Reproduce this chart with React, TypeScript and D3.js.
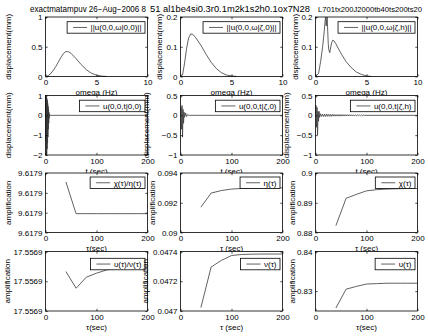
import React, { useEffect, useRef } from 'react';
import * as d3 from 'd3';

const W = 428;
const H = 336;

// row 1: spectra, omega (Hz)
const omegaA = [0, 0.25, 0.5, 0.75, 1, 1.25, 1.5, 1.75, 2, 2.25, 2.5, 3, 3.5, 4, 4.5, 5, 5.5, 6];
const specA = [0, 0.012, 0.045, 0.1, 0.165, 0.24, 0.32, 0.385, 0.42, 0.415, 0.39, 0.3, 0.2, 0.115, 0.055, 0.022, 0.007, 0];
const omegaB = [0, 0.2, 0.4, 0.6, 0.8, 1, 1.2, 1.5, 2, 2.5, 3, 3.5, 4, 4.5, 5, 5.5];
const specB = [0, 0.005, 0.045, 0.095, 0.13, 0.143, 0.142, 0.13, 0.105, 0.075, 0.048, 0.027, 0.013, 0.005, 0.002, 0];
const omegaC = [0, 0.3, 0.5, 0.7, 0.85, 0.95, 1, 1.05, 1.1, 1.15, 1.2, 1.25, 1.3, 1.4, 1.5, 1.6, 1.7, 1.8, 2, 2.3, 2.6, 3, 3.5, 4, 4.5, 5, 5.5];
const specC = [0, 0.01, 0.05, 0.1, 0.15, 0.19, 0.2, 0.17, 0.19, 0.2, 0.15, 0.11, 0.09, 0.08, 0.1, 0.115, 0.122, 0.12, 0.11, 0.09, 0.072, 0.05, 0.03, 0.015, 0.007, 0.002, 0];

// row 2: time histories, t (sec)
const timeA = [0, 0.4, 0.8, 1.2, 1.6, 2, 2.4, 2.8, 3.2, 3.6, 4, 4.4, 4.8, 5.2, 5.6, 6, 6.4, 6.8, 7.2, 7.6, 8, 200];
const dispA = [0, 0.9, -1.3, 0.95, -2, 0.9, -1.95, 0.85, -1.7, 0.75, -1.4, 0.6, -1.1, 0.45, -0.7, 0.3, -0.4, 0.15, -0.15, 0.05, 0, 0];
const timeB = [0, 1, 2, 3, 4, 5, 6, 7, 8, 10, 12, 14, 16, 18, 200];
const dispB = [0, 0.2, -0.35, 0.25, -0.55, 0.15, -0.2, 0.08, -0.05, 0.06, -0.03, 0.02, 0, 0, 0];
const timeC = [0, 1, 2, 3, 4, 5, 6, 7, 8, 10, 12, 14, 16, 18, 20, 22, 24, 26, 28, 30, 32, 34, 36, 38, 40, 42, 44, 46, 48, 50, 52, 54, 56, 58, 60, 62, 64, 66, 68, 70, 72, 74, 76, 78, 80, 82, 84, 86, 88, 90, 92, 94, 96, 200];
const dispC = [0, 0.25, -0.3, 0.2, -0.5, 0.1, -0.15, 0.1, -0.05, 0.04, -0.03, 0.03, -0.03, 0.03, -0.03, 0.03, -0.025, 0.025, -0.025, 0.025, -0.025, 0.025, -0.02, 0.02, -0.02, 0.02, -0.02, 0.02, -0.02, 0.02, -0.018, 0.018, -0.018, 0.018, -0.016, 0.016, -0.016, 0.016, -0.015, 0.015, -0.014, 0.014, -0.013, 0.013, -0.012, 0.012, -0.011, 0.011, -0.01, 0.01, -0.008, 0.006, 0, 0];

// rows 3-4: amplification vs tau (sec)
const tau = [40, 60, 80, 100, 120, 140, 160, 180, 200];
const chiOverEta = [9.6178991, 9.6178959, 9.6178959, 9.6178959, 9.6178959, 9.6178959, 9.6178959, 9.6178959, 9.6178959];
const eta = [0.0917, 0.09265, 0.09282, 0.09292, 0.09296, 0.09298, 0.093, 0.093, 0.093];
const chi = [0.8823, 0.8915, 0.8928, 0.894, 0.8944, 0.8946, 0.8947, 0.8948, 0.8948];
const upsOverNu = [17.55690163, 17.55689883, 17.55690068, 17.55690136, 17.5569019, 17.5569022, 17.5569024, 17.5569025, 17.55690255];
const nu = [0.047023, 0.047295, 0.04734, 0.047373, 0.04738, 0.047382, 0.047383, 0.047383, 0.047383];
const ups = [0.82575, 0.8305, 0.8312, 0.8318, 0.8319, 0.832, 0.832, 0.832, 0.832];

const titles = ['exactmatampuv 26\u2212Aug\u22122006 8', '51 al1be4si0.3r0.1m2k1s2h0.1ox7N28', 'L701tx200J2000tb40ts200ts20'];
const legends = [
  '||u(0,0,\u03c9|0,0)||', '||u(0,0,\u03c9|\u03b6,0)||', '||u(0,0,\u03c9|\u03b6,h)||',
  'u(0,0,t|0,0)', 'u(0,0,t|\u03b6,0)', 'u(0,0,t|\u03b6,h)',
  '\u03c7(\u03c4)/\u03b7(\u03c4)', '\u03b7(\u03c4)', '\u03c7(\u03c4)',
  '\u03c5(\u03c4)/\u03bd(\u03c4)', '\u03bd(\u03c4)', '\u03c5(\u03c4)',
];
const omegaTicks = [0, 5, 10];
const timeTicks = [0, 100, 200];

const colLeft = [45.5, 180.5, 315.5];
const rowTop = [17, 95.5, 173, 251.5];
const AW = 102;
const AH = 59.5;
const legendTop = [4.7, 4.7, 4, 6.8];
const FONT = '"Liberation Sans", Arial, Helvetica, sans-serif';
const INK = '#3a3a3a';

type Panel = {
  xs: number[]; ys: number[];
  xDomain: [number, number]; xTicks: number[];
  yDomain: [number, number]; yTicks: number[]; yFmt: (v: number) => string;
  xlabel: string; ylabel: string; ylabelX: number;
};

const g = d3.format('~g');

const panels: Panel[] = [
  { xs: omegaA, ys: specA, xDomain: [0, 10], xTicks: omegaTicks, yDomain: [0, 1], yTicks: [0, 0.5, 1], yFmt: g, xlabel: 'omega (Hz)', ylabel: 'displacement(mm)', ylabelX: 8 },
  { xs: omegaB, ys: specB, xDomain: [0, 10], xTicks: omegaTicks, yDomain: [0, 0.2], yTicks: [0, 0.1, 0.2], yFmt: g, xlabel: 'omega (Hz)', ylabel: 'displacement(mm)', ylabelX: 159 },
  { xs: omegaC, ys: specC, xDomain: [0, 10], xTicks: omegaTicks, yDomain: [0, 0.2], yTicks: [0, 0.1, 0.2], yFmt: g, xlabel: 'omega (Hz)', ylabel: 'displacement(mm)', ylabelX: 295 },
  { xs: timeA, ys: dispA, xDomain: [0, 200], xTicks: timeTicks, yDomain: [-2, 1], yTicks: [-2, -1, 0, 1], yFmt: g, xlabel: 't (sec)', ylabel: 'displacement(mm)', ylabelX: 8 },
  { xs: timeB, ys: dispB, xDomain: [0, 200], xTicks: timeTicks, yDomain: [-1, 0.5], yTicks: [-1, -0.5, 0, 0.5], yFmt: g, xlabel: 't (sec)', ylabel: 'displacement(mm)', ylabelX: 146 },
  { xs: timeC, ys: dispC, xDomain: [0, 200], xTicks: timeTicks, yDomain: [-1, 0.5], yTicks: [-1, -0.5, 0, 0.5], yFmt: g, xlabel: 't (sec)', ylabel: 'displacement(mm)', ylabelX: 286 },
  { xs: tau, ys: chiOverEta, xDomain: [0, 200], xTicks: timeTicks, yDomain: [9.617894, 9.6179], yTicks: [9.617894, 9.617896, 9.617898, 9.6179], yFmt: d3.format('.5r'), xlabel: '\u03c4(sec)', ylabel: 'amplification', ylabelX: 8 },
  { xs: tau, ys: eta, xDomain: [0, 200], xTicks: timeTicks, yDomain: [0.09, 0.094], yTicks: [0.09, 0.092, 0.094], yFmt: g, xlabel: '\u03c4 (sec)', ylabel: 'amplification', ylabelX: 152 },
  { xs: tau, ys: chi, xDomain: [0, 200], xTicks: timeTicks, yDomain: [0.88, 0.9], yTicks: [0.88, 0.89, 0.9], yFmt: g, xlabel: '\u03c4 (sec)', ylabel: 'amplification', ylabelX: 292 },
  { xs: tau, ys: upsOverNu, xDomain: [0, 200], xTicks: timeTicks, yDomain: [17.556895, 17.556905], yTicks: [17.556895, 17.5569, 17.556905], yFmt: d3.format('.6r'), xlabel: '\u03c4(sec)', ylabel: 'amplification', ylabelX: 7 },
  { xs: tau, ys: nu, xDomain: [0, 200], xTicks: timeTicks, yDomain: [0.047, 0.0474], yTicks: [0.047, 0.0472, 0.0474], yFmt: g, xlabel: '\u03c4 (sec)', ylabel: 'amplification', ylabelX: 145 },
  { xs: tau, ys: ups, xDomain: [0, 200], xTicks: timeTicks, yDomain: [0.825, 0.84], yTicks: [0.83, 0.84], yFmt: g, xlabel: '\u03c4(sec)', ylabel: 'amplification', ylabelX: 292 },
];

// title start, span (px) and size
const titleX = [30, 150, 318];
const titleSpan = [116, 160, 104];
const titleSize = [8.3, 8.3, 7.6];

export default function App() {
  const ref = useRef<SVGSVGElement>(null);

  useEffect(() => {
    const svg = d3.select(ref.current);
    svg.selectAll('*').remove();
    svg.append('rect').attr('width', W).attr('height', H).attr('fill', '#fff');

    panels.forEach((p, i) => {
      const row = Math.floor(i / 3);
      const col = i % 3;
      const x0 = colLeft[col];
      const y0 = rowTop[row];
      const x = d3.scaleLinear().domain(p.xDomain).range([x0, x0 + AW]);
      const y = d3.scaleLinear().domain(p.yDomain).range([y0 + AH, y0]);
      const pg = svg.append('g').attr('font-family', FONT).attr('font-size', 8);

      pg.append('rect').attr('x', x0).attr('y', y0).attr('width', AW).attr('height', AH).attr('fill', '#fff');

      const clipId = `clip${i}`;
      pg.append('clipPath').attr('id', clipId)
        .append('rect').attr('x', x0).attr('y', y0 - 1).attr('width', AW).attr('height', AH + 2);

      const line = d3.line<[number, number]>().x(d => x(d[0])).y(d => y(d[1]));
      const pts = d3.zip(p.xs, p.ys) as [number, number][];
      pg.append('path').datum(pts)
        .attr('clip-path', `url(#${clipId})`)
        .attr('d', line)
        .attr('fill', 'none').attr('stroke', INK).attr('stroke-width', 0.8);

      // axes with inward ticks on all sides
      const tk = 2.2;
      const bottom = pg.append('g').attr('transform', `translate(0,${y0 + AH})`)
        .call(d3.axisBottom(x).tickValues(p.xTicks).tickSize(-tk).tickPadding(3).tickFormat(g as any));
      const top = pg.append('g').attr('transform', `translate(0,${y0})`)
        .call(d3.axisTop(x).tickValues(p.xTicks).tickSize(-tk).tickFormat(() => ''));
      const left = pg.append('g').attr('transform', `translate(${x0},0)`)
        .call(d3.axisLeft(y).tickValues(p.yTicks).tickSize(-tk).tickPadding(3).tickFormat(p.yFmt as any));
      const right = pg.append('g').attr('transform', `translate(${x0 + AW},0)`)
        .call(d3.axisRight(y).tickValues(p.yTicks).tickSize(-tk).tickFormat(() => ''));
      [bottom, top, left, right].forEach(a => {
        a.attr('font-family', FONT).attr('font-size', 8);
        a.select('.domain').remove();
        a.selectAll('line').attr('stroke', '#000').attr('stroke-width', 0.7);
        a.selectAll('text').attr('fill', '#000');
      });

      pg.append('rect').attr('x', x0).attr('y', y0).attr('width', AW).attr('height', AH)
        .attr('fill', 'none').attr('stroke', '#000').attr('stroke-width', 0.8);

      // legend
      const lg = pg.append('g');
      const lt = lg.append('text').attr('font-size', 8).attr('fill', '#000').text(legends[i]);
      const tw = (lt.node() as SVGTextElement).getComputedTextLength();
      const lw = tw + 27;
      const lh = 11.5;
      const lx = x0 + AW - 2.5 - lw;
      const ly = y0 + legendTop[row];
      lg.insert('rect', 'text').attr('x', lx).attr('y', ly).attr('width', lw).attr('height', lh)
        .attr('fill', '#fff').attr('stroke', '#000').attr('stroke-width', 0.8);
      lg.append('line').attr('x1', lx + 6).attr('x2', lx + 20).attr('y1', ly + lh / 2).attr('y2', ly + lh / 2)
        .attr('stroke', INK).attr('stroke-width', 0.8);
      lt.attr('x', lx + 23.5).attr('y', ly + lh / 2).attr('dy', '0.35em');

      // labels
      pg.append('text').attr('x', x0 + AW / 2).attr('y', y0 + AH + 18.5)
        .attr('text-anchor', 'middle').attr('fill', '#000').text(p.xlabel);
      pg.append('text')
        .attr('transform', `translate(${p.ylabelX},${y0 + AH / 2}) rotate(-90)`)
        .attr('text-anchor', 'middle').attr('dy', '0.35em').attr('fill', '#000').text(p.ylabel);

      if (row === 0) {
        pg.append('text').attr('x', titleX[col]).attr('y', 11.5).attr('fill', '#000')
          .attr('font-size', titleSize[col])
          .attr('textLength', titleSpan[col]).attr('lengthAdjust', 'spacingAndGlyphs')
          .text(titles[col]);
      }
    });
  }, []);

  return (
    <svg ref={ref} width={W} height={H} style={{ position: 'absolute', left: 0, top: 0 }} />
  );
}
